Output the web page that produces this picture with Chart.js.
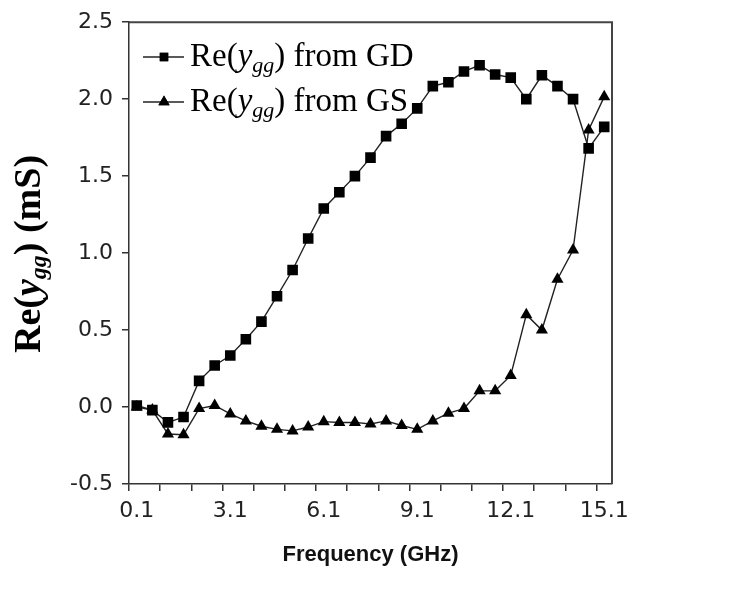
<!DOCTYPE html>
<html>
<head>
<meta charset="utf-8">
<script src="https://cdn.jsdelivr.net/npm/chart.js@4.4.1/dist/chart.umd.min.js"></script>
<style>
  html, body { margin: 0; padding: 0; background: #fff; }
  #wrap { width: 741px; height: 590px; }
</style>
</head>
<body>
<div id="wrap"><canvas id="myChart" width="741" height="590"></canvas></div>
<script>
// frequency points (GHz)
var freqs = ['0.1', '0.6', '1.1', '1.6', '2.1', '2.6', '3.1', '3.6', '4.1', '4.6',
             '5.1', '5.6', '6.1', '6.6', '7.1', '7.6', '8.1', '8.6', '9.1', '9.6',
             '10.1', '10.6', '11.1', '11.6', '12.1', '12.6', '13.1', '13.6', '14.1', '14.6', '15.1'];
var shownTicks = ['0.1', '3.1', '6.1', '9.1', '12.1', '15.1'];

// Re(ygg) in mS
var reGD = [0.01, -0.02, -0.10, -0.065, 0.17, 0.27, 0.335, 0.44, 0.555, 0.72,
            0.89, 1.095, 1.29, 1.395, 1.50, 1.62, 1.76, 1.84, 1.94, 2.085,
            2.11, 2.18, 2.22, 2.16, 2.14, 2.0, 2.155, 2.085, 2.0, 1.68, 1.82];
var reGS = [0.0, -0.02, -0.175, -0.18, -0.01, 0.01, -0.045, -0.09, -0.125, -0.145,
            -0.155, -0.13, -0.095, -0.10, -0.10, -0.11, -0.09, -0.12, -0.145, -0.09,
            -0.04, -0.01, 0.105, 0.105, 0.205, 0.60, 0.50, 0.83, 1.02, 1.80, 2.015];

var serif = '"Liberation Serif", "Times New Roman", serif';

// draws a run of [text, font, dy] pieces starting at x,y
function richText(c, pieces, x, y, centered) {
    var total = 0;
    pieces.forEach(function (p) { c.font = p[1]; total += c.measureText(p[0]).width; });
    var cx = centered ? x - total / 2 : x;
    pieces.forEach(function (p) {
        c.font = p[1];
        c.fillText(p[0], cx, y + (p[2] || 0));
        cx += c.measureText(p[0]).width;
    });
}

var extras = {
    id: 'extras',
    afterDraw: function (chart) {
        var c = chart.ctx, a = chart.chartArea;
        c.save();
        // plot frame, top and right
        c.strokeStyle = '#444';
        c.lineWidth = 2;
        c.beginPath();
        c.moveTo(a.left, a.top);
        c.lineTo(a.right, a.top);
        c.lineTo(a.right, a.bottom);
        c.stroke();

        // legend
        var rows = [
            { y: 57, style: 'rect', r: 6, txt: ') from GD' },
            { y: 102, style: 'triangle', r: 6.5, txt: ') from GS' }
        ];
        rows.forEach(function (row) {
            c.strokeStyle = '#222';
            c.lineWidth = 1.6;
            c.beginPath();
            c.moveTo(143, row.y);
            c.lineTo(184, row.y);
            c.stroke();
            c.fillStyle = '#000';
            Chart.helpers.drawPoint(c, { pointStyle: row.style, radius: row.r, borderWidth: 0 }, 164, row.y);
            c.fill();
            c.fillStyle = '#000';
            c.textBaseline = 'middle';
            c.textAlign = 'left';
            richText(c, [
                ['Re(', '33px ' + serif, 0],
                ['y', 'italic 33px ' + serif, 0],
                ['gg', 'italic 22px ' + serif, 9],
                [row.txt, '33px ' + serif, 0]
            ], 190, row.y, false);
        });

        // y axis title
        c.translate(30, 254);
        c.rotate(-Math.PI / 2);
        c.textBaseline = 'middle';
        richText(c, [
            ['Re(', 'bold 38px ' + serif, 0],
            ['y', 'bold italic 38px ' + serif, 0],
            ['gg', 'bold italic 24px ' + serif, 10],
            [') (mS)', 'bold 38px ' + serif, 0]
        ], 0, 0, true);
        c.restore();

        // x axis title
        c.save();
        c.fillStyle = '#111';
        c.font = 'bold 22px "Liberation Sans", Arial, sans-serif';
        c.textAlign = 'center';
        c.textBaseline = 'middle';
        c.fillText('Frequency (GHz)', (a.left + a.right) / 2, 555);
        c.restore();
    }
};

var tickFont = { family: '"DejaVu Sans", sans-serif', size: 22 };

var ctx = document.getElementById('myChart').getContext('2d');
var myChart = new Chart(ctx, {
    type: 'line',
    data: {
        labels: freqs,
        datasets: [{
            label: 'Re(ygg) from GD',
            data: reGD,
            borderColor: '#222',
            borderWidth: 1.4,
            pointStyle: 'rect',
            pointRadius: 7.5,
            pointBackgroundColor: '#000',
            pointBorderColor: '#000',
            pointBorderWidth: 0,
            tension: 0
        }, {
            label: 'Re(ygg) from GS',
            data: reGS,
            borderColor: '#222',
            borderWidth: 1.4,
            pointStyle: 'triangle',
            pointRadius: 7,
            pointBackgroundColor: '#000',
            pointBorderColor: '#000',
            pointBorderWidth: 0,
            tension: 0
        }]
    },
    options: {
        responsive: false,
        animation: false,
        layout: { padding: { top: 20, right: 129, left: 0, bottom: 0 } },
        plugins: { legend: { display: false }, tooltip: { enabled: false } },
        scales: {
            x: {
                offset: true,
                grid: {
                    offset: true,
                    drawOnChartArea: false,
                    tickLength: 7,
                    lineWidth: 1.5,
                    color: function (c) { return c.index % 2 === 0 ? '#333' : 'rgba(0,0,0,0)'; }
                },
                border: { color: '#333', width: 1.5 },
                ticks: {
                    autoSkip: false,
                    maxRotation: 0,
                    padding: 7,
                    color: '#222',
                    font: tickFont,
                    callback: function (v) {
                        var l = this.getLabelForValue(v);
                        return shownTicks.indexOf(l) >= 0 ? l : '';
                    }
                },
                afterFit: function (s) { s.height = 106; }
            },
            y: {
                min: -0.5,
                max: 2.5,
                grid: { drawOnChartArea: false, tickLength: 7, lineWidth: 1.5, color: '#333' },
                border: { color: '#333', width: 1.5 },
                ticks: {
                    stepSize: 0.5,
                    padding: 9,
                    color: '#222',
                    font: tickFont,
                    callback: function (v) { return v.toFixed(1); }
                },
                afterFit: function (s) { s.width = 129; }
            }
        }
    },
    plugins: [extras]
});
</script>
</body>
</html>
